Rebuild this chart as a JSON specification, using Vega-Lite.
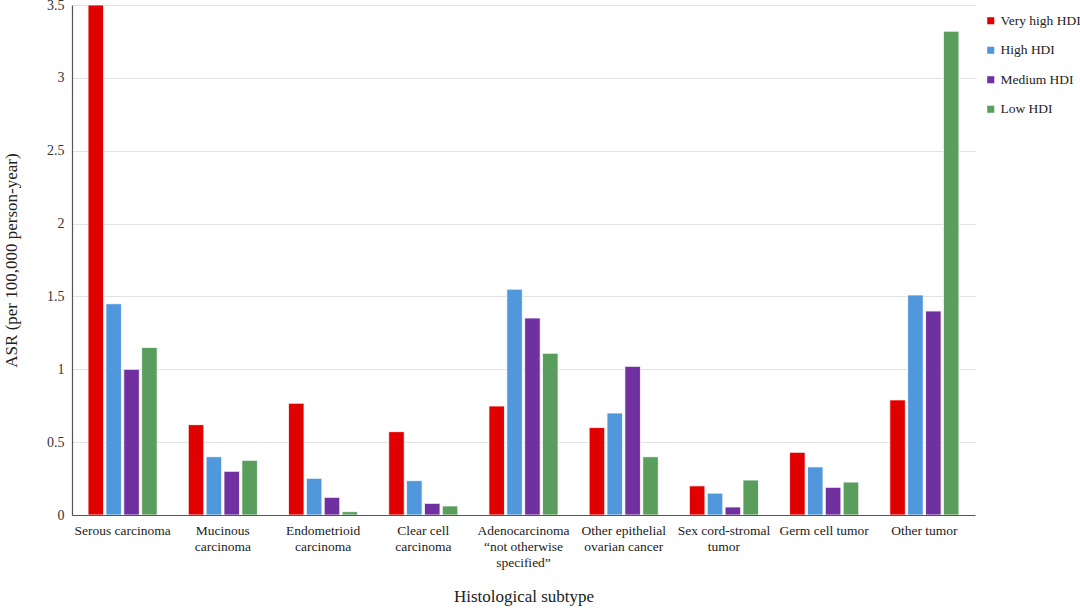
{
  "$schema": "https://vega.github.io/schema/vega-lite/v6.json",
  "autosize": "none",
  "width": 903,
  "height": 510,
  "padding": {"left": 72, "top": 5, "right": 105, "bottom": 93},
  "background": "white",
  "config": {
    "font": "Liberation Serif",
    "view": {"stroke": null}
  },
  "data": {
    "values": [
      {"subtype": "Serous carcinoma", "hdi": "Very high HDI", "asr": 3.5},
      {"subtype": "Serous carcinoma", "hdi": "High HDI", "asr": 1.45},
      {"subtype": "Serous carcinoma", "hdi": "Medium HDI", "asr": 1.0},
      {"subtype": "Serous carcinoma", "hdi": "Low HDI", "asr": 1.15},
      {"subtype": "Mucinous|carcinoma", "hdi": "Very high HDI", "asr": 0.62},
      {"subtype": "Mucinous|carcinoma", "hdi": "High HDI", "asr": 0.40},
      {"subtype": "Mucinous|carcinoma", "hdi": "Medium HDI", "asr": 0.30},
      {"subtype": "Mucinous|carcinoma", "hdi": "Low HDI", "asr": 0.375},
      {"subtype": "Endometrioid|carcinoma", "hdi": "Very high HDI", "asr": 0.767},
      {"subtype": "Endometrioid|carcinoma", "hdi": "High HDI", "asr": 0.252},
      {"subtype": "Endometrioid|carcinoma", "hdi": "Medium HDI", "asr": 0.121},
      {"subtype": "Endometrioid|carcinoma", "hdi": "Low HDI", "asr": 0.023},
      {"subtype": "Clear cell|carcinoma", "hdi": "Very high HDI", "asr": 0.572},
      {"subtype": "Clear cell|carcinoma", "hdi": "High HDI", "asr": 0.236},
      {"subtype": "Clear cell|carcinoma", "hdi": "Medium HDI", "asr": 0.08},
      {"subtype": "Clear cell|carcinoma", "hdi": "Low HDI", "asr": 0.062},
      {"subtype": "Adenocarcinoma|“not otherwise|specified”", "hdi": "Very high HDI", "asr": 0.748},
      {"subtype": "Adenocarcinoma|“not otherwise|specified”", "hdi": "High HDI", "asr": 1.55},
      {"subtype": "Adenocarcinoma|“not otherwise|specified”", "hdi": "Medium HDI", "asr": 1.352},
      {"subtype": "Adenocarcinoma|“not otherwise|specified”", "hdi": "Low HDI", "asr": 1.11},
      {"subtype": "Other epithelial|ovarian cancer", "hdi": "Very high HDI", "asr": 0.60},
      {"subtype": "Other epithelial|ovarian cancer", "hdi": "High HDI", "asr": 0.70},
      {"subtype": "Other epithelial|ovarian cancer", "hdi": "Medium HDI", "asr": 1.02},
      {"subtype": "Other epithelial|ovarian cancer", "hdi": "Low HDI", "asr": 0.40},
      {"subtype": "Sex cord-stromal|tumor", "hdi": "Very high HDI", "asr": 0.20},
      {"subtype": "Sex cord-stromal|tumor", "hdi": "High HDI", "asr": 0.15},
      {"subtype": "Sex cord-stromal|tumor", "hdi": "Medium HDI", "asr": 0.055},
      {"subtype": "Sex cord-stromal|tumor", "hdi": "Low HDI", "asr": 0.24},
      {"subtype": "Germ cell tumor", "hdi": "Very high HDI", "asr": 0.43},
      {"subtype": "Germ cell tumor", "hdi": "High HDI", "asr": 0.33},
      {"subtype": "Germ cell tumor", "hdi": "Medium HDI", "asr": 0.19},
      {"subtype": "Germ cell tumor", "hdi": "Low HDI", "asr": 0.226},
      {"subtype": "Other tumor", "hdi": "Very high HDI", "asr": 0.79},
      {"subtype": "Other tumor", "hdi": "High HDI", "asr": 1.51},
      {"subtype": "Other tumor", "hdi": "Medium HDI", "asr": 1.40},
      {"subtype": "Other tumor", "hdi": "Low HDI", "asr": 3.32}
    ]
  },
  "mark": {"type": "bar", "stroke": "white", "strokeWidth": 0.8, "clip": true},
  "encoding": {
    "x": {
      "field": "subtype",
      "type": "nominal",
      "sort": null,
      "scale": {"paddingInner": 0.31, "paddingOuter": 0.16},
      "axis": {
        "title": "Histological subtype",
        "titleFont": "Liberation Serif",
        "titleFontSize": 17,
        "titleFontWeight": "normal",
        "titleColor": "#222",
        "titlePadding": 20,
        "labelAngle": 0,
        "labelExpr": "split(datum.label, '|')",
        "labelFont": "Liberation Serif",
        "labelFontSize": 13.5,
        "labelColor": "#222",
        "labelLineHeight": 16,
        "labelPadding": 8,
        "labelLimit": 200,
        "ticks": false,
        "domainColor": "#555",
        "domainWidth": 1.2
      }
    },
    "xOffset": {
      "field": "hdi",
      "type": "nominal",
      "sort": ["Very high HDI", "High HDI", "Medium HDI", "Low HDI"],
      "scale": {"paddingInner": 0.13}
    },
    "y": {
      "field": "asr",
      "type": "quantitative",
      "scale": {"domain": [0, 3.5], "nice": false},
      "axis": {
        "title": "ASR (per 100,000 person-year)",
        "titleFont": "Liberation Serif",
        "titleFontSize": 17,
        "titleFontWeight": "normal",
        "titleColor": "#222",
        "titlePadding": 26,
        "values": [0, 0.5, 1, 1.5, 2, 2.5, 3, 3.5],
        "format": "~g",
        "labelFont": "Liberation Serif",
        "labelFontSize": 14,
        "labelColor": "#333",
        "labelPadding": 8,
        "ticks": false,
        "gridColor": "#e3e3e3",
        "gridWidth": 1,
        "domainColor": "#555",
        "domainWidth": 1.2
      }
    },
    "color": {
      "field": "hdi",
      "type": "nominal",
      "sort": ["Very high HDI", "High HDI", "Medium HDI", "Low HDI"],
      "scale": {
        "domain": ["Very high HDI", "High HDI", "Medium HDI", "Low HDI"],
        "range": ["#E10000", "#5097DB", "#7030A0", "#5A9E5E"]
      },
      "legend": {
        "title": null,
        "orient": "none",
        "legendX": 912,
        "legendY": 9,
        "symbolType": "square",
        "symbolSize": 50,
        "symbolStrokeWidth": 0,
        "labelFont": "Liberation Serif",
        "labelFontSize": 13.5,
        "labelColor": "#222",
        "labelOffset": 3,
        "rowPadding": 14.5,
        "labelLimit": 200
      }
    }
  }
}
